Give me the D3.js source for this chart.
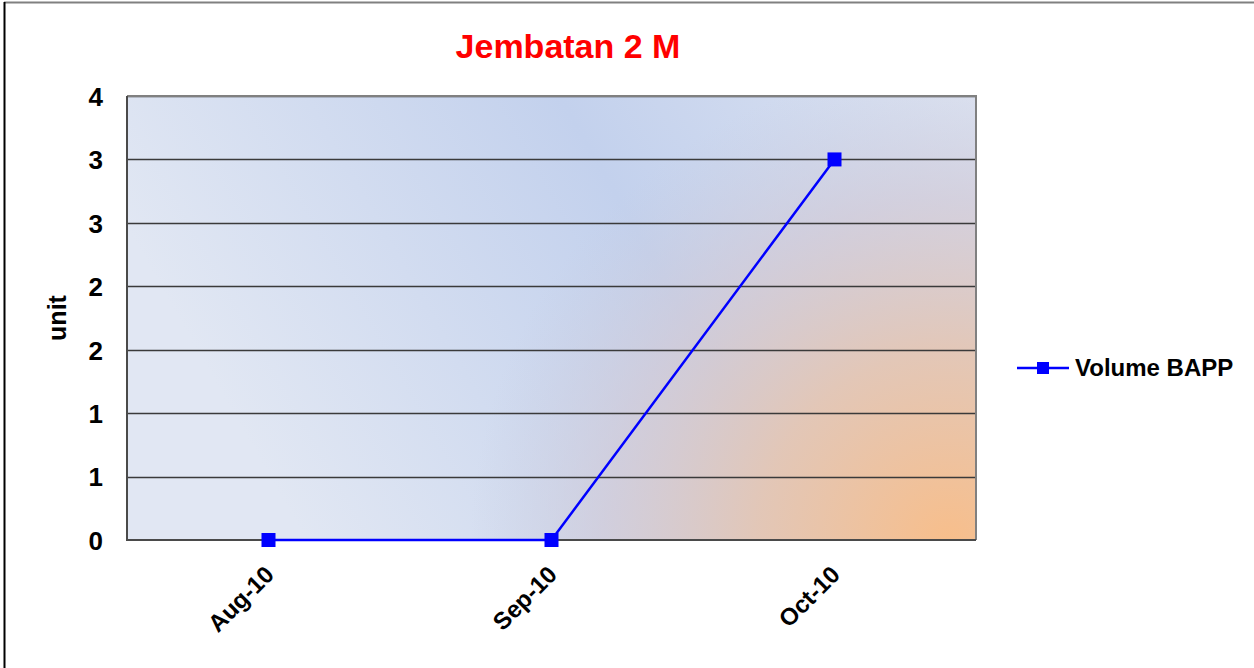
<!DOCTYPE html>
<html>
<head>
<meta charset="utf-8">
<script src="https://cdn.jsdelivr.net/npm/d3@7"></script>
<style>
  body { margin: 0; background: #fff; }
  svg { display: block; font-family: "Liberation Sans", Arial, sans-serif; }
</style>
</head>
<body>
<div id="chart"></div>
<script>
const months = ['Aug-10', 'Sep-10', 'Oct-10'];
const volume = [0, 0, 3];
const yTicks = [0, 0.5, 1, 1.5, 2, 2.5, 3, 3.5];
const seriesName = 'Volume BAPP';

const width = 1254;
const height = 668;
const plot = { left: 127, top: 96, right: 976, bottom: 540 };

const svg = d3
  .select('#chart')
  .append('svg')
  .attr('width', width)
  .attr('height', height);

const defs = svg.append('defs');

const lin = defs
  .append('linearGradient')
  .attr('id', 'bgLin')
  .attr('x1', '0%')
  .attr('y1', '30%')
  .attr('x2', '100%')
  .attr('y2', '0%');
lin.append('stop').attr('offset', '0%').attr('stop-color', '#e1e7f3');
lin.append('stop').attr('offset', '55%').attr('stop-color', '#c3d1ed');
lin.append('stop').attr('offset', '100%').attr('stop-color', '#dde3f1');

const rad = defs
  .append('radialGradient')
  .attr('id', 'bgRad')
  .attr('gradientUnits', 'userSpaceOnUse')
  .attr('cx', 950)
  .attr('cy', 545)
  .attr('r', 480);
rad.append('stop').attr('offset', '0%').attr('stop-color', '#f8be8a').attr('stop-opacity', 1);
rad.append('stop').attr('offset', '40%').attr('stop-color', '#e4c6b4').attr('stop-opacity', 0.95);
rad.append('stop').attr('offset', '72%').attr('stop-color', '#d2cad6').attr('stop-opacity', 0.7);
rad.append('stop').attr('offset', '100%').attr('stop-color', '#c8cce0').attr('stop-opacity', 0);

// outer frame
svg.append('line').attr('x1', 4).attr('x2', width).attr('y1', 2.5).attr('y2', 2.5)
  .attr('stroke', '#808080').attr('stroke-width', 2);
svg.append('line').attr('x1', 4.5).attr('x2', 4.5).attr('y1', 2).attr('y2', height)
  .attr('stroke', '#000').attr('stroke-width', 2);

const x = d3
  .scaleBand()
  .domain(months)
  .range([plot.left, plot.right]);

const y = d3
  .scaleLinear()
  .domain([0, 3.5])
  .range([plot.bottom, plot.top]);

const pw = plot.right - plot.left;
const ph = plot.bottom - plot.top;

svg.append('rect').attr('x', plot.left).attr('y', plot.top)
  .attr('width', pw).attr('height', ph).attr('fill', 'url(#bgLin)');
svg.append('rect').attr('x', plot.left).attr('y', plot.top)
  .attr('width', pw).attr('height', ph).attr('fill', 'url(#bgRad)');

// gridlines
svg.append('g')
  .selectAll('line')
  .data(yTicks.filter(d => d > 0))
  .join('line')
  .attr('x1', plot.left)
  .attr('x2', plot.right)
  .attr('y1', d => Math.round(y(d)) + 0.5)
  .attr('y2', d => Math.round(y(d)) + 0.5)
  .attr('stroke', '#3a3a3a')
  .attr('stroke-width', 1.3);

// plot border
svg.append('path')
  .attr('d', `M${plot.left},${plot.top}H${plot.right}V${plot.bottom}`)
  .attr('fill', 'none').attr('stroke', '#808080').attr('stroke-width', 2);
svg.append('path')
  .attr('d', `M${plot.left},${plot.top}V${plot.bottom}H${plot.right}`)
  .attr('fill', 'none').attr('stroke', '#4a4a4a').attr('stroke-width', 2);

// y axis labels
const yAxis = svg.append('g')
  .attr('transform', `translate(${plot.left}, 0)`)
  .call(d3.axisLeft(y).tickValues(yTicks).tickSize(0).tickPadding(24)
    .tickFormat(d => d3.format('.0f')(Math.floor(d + 0.5))));
yAxis.select('.domain').remove();
yAxis.selectAll('text')
  .attr('font-size', 26).attr('font-weight', 'bold').attr('fill', '#000')
  .attr('font-family', '"Liberation Sans", Arial, sans-serif')
  .attr('dy', '0.36em');

// x axis labels
const xAxis = svg.append('g')
  .attr('transform', `translate(0, ${plot.bottom})`)
  .call(d3.axisBottom(x).tickSize(0).tickPadding(0));
xAxis.select('.domain').remove();
xAxis.selectAll('text')
  .attr('font-size', 24).attr('font-weight', 'bold').attr('fill', '#000')
  .attr('font-family', '"Liberation Sans", Arial, sans-serif')
  .attr('text-anchor', 'end')
  .attr('dy', 0)
  .attr('transform', 'translate(7, 36) rotate(-45)');

// axis title
svg.append('text')
  .attr('transform', `translate(66, ${(plot.top + plot.bottom) / 2}) rotate(-90)`)
  .attr('text-anchor', 'middle')
  .attr('font-size', 25).attr('font-weight', 'bold')
  .text('unit');

// title
svg.append('text')
  .attr('x', 568).attr('y', 58)
  .attr('text-anchor', 'middle')
  .attr('font-size', 34).attr('font-weight', 'bold').attr('fill', '#ff0000')
  .text('Jembatan 2 M');

// series
const px = d => x(d) + x.bandwidth() / 2;
const pts = months.map((m, i) => ({ m, v: volume[i] }));

svg.append('path')
  .datum(pts)
  .attr('fill', 'none')
  .attr('stroke', '#0000ff')
  .attr('stroke-width', 2.5)
  .attr('d', d3.line(d => px(d.m), d => y(d.v)));

svg.append('g')
  .selectAll('rect')
  .data(pts)
  .join('rect')
  .attr('x', d => px(d.m) - 7)
  .attr('y', d => y(d.v) - 7)
  .attr('width', 14)
  .attr('height', 14)
  .attr('fill', '#0000ff');

// legend
const lg = svg.append('g').attr('transform', 'translate(1017, 368)');
lg.append('line').attr('x1', 0).attr('x2', 52).attr('y1', 0).attr('y2', 0)
  .attr('stroke', '#0000ff').attr('stroke-width', 2.5);
lg.append('rect').attr('x', 20).attr('y', -6).attr('width', 12).attr('height', 12)
  .attr('fill', '#0000ff');
lg.append('text').attr('x', 58).attr('y', 8)
  .attr('font-size', 24).attr('font-weight', 'bold')
  .text(seriesName);
</script>
</body>
</html>
